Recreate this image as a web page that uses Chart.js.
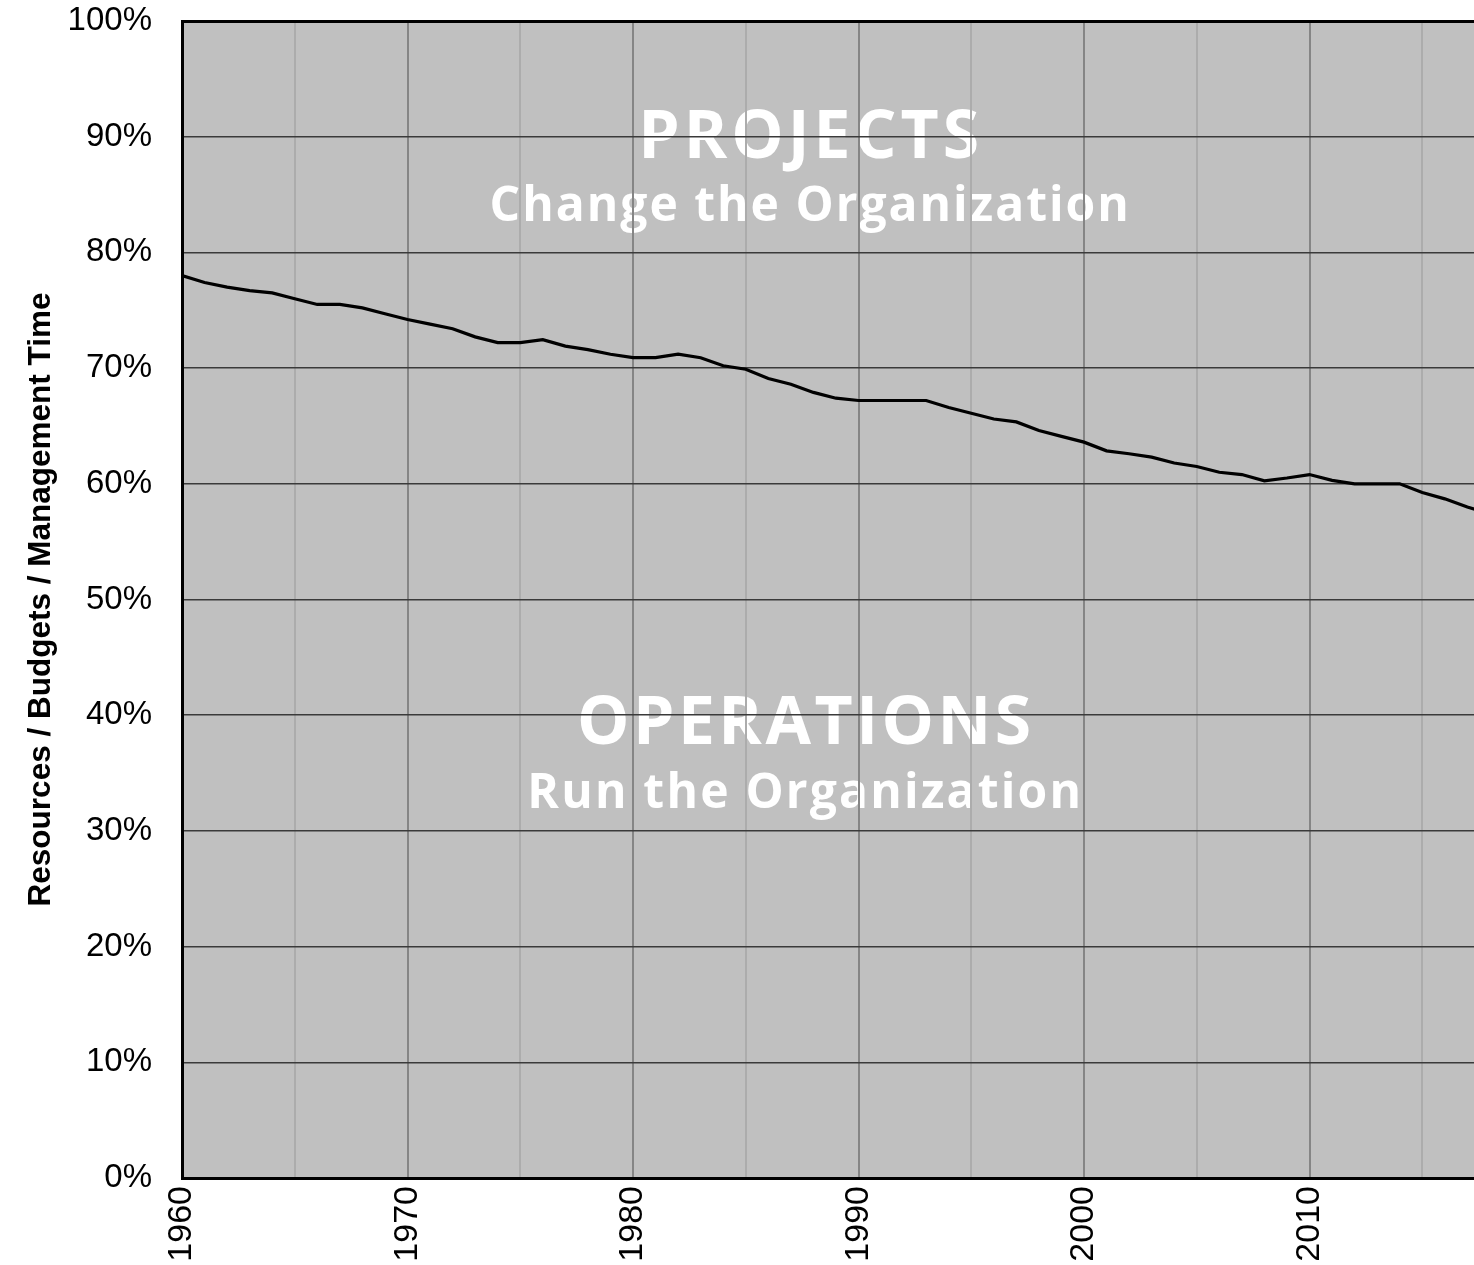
<!DOCTYPE html>
<html><head><meta charset="utf-8">
<script src="https://cdn.jsdelivr.net/npm/chart.js@4"></script>
<style>
html,body{margin:0;padding:0;background:#fff;overflow:hidden;width:1474px;height:1265px}
#wrap{position:absolute;left:0;top:0;width:1546px;height:1265px}
</style></head>
<body><div id="wrap"><canvas id="c" width="1546" height="1265"></canvas></div>
<script>
const years = [1960,1961,1962,1963,1964,1965,1966,1967,1968,1969,
  1970,1971,1972,1973,1974,1975,1976,1977,1978,1979,
  1980,1981,1982,1983,1984,1985,1986,1987,1988,1989,
  1990,1991,1992,1993,1994,1995,1996,1997,1998,1999,
  2000,2001,2002,2003,2004,2005,2006,2007,2008,2009,
  2010,2011,2012,2013,2014,2015,2016,2017,2018];
const operationsShare = [78.0,77.4,77.0,76.7,76.5,76.0,75.5,75.5,75.2,74.7,
  74.2,73.8,73.4,72.7,72.2,72.2,72.45,71.9,71.6,71.2,
  70.9,70.9,71.2,70.9,70.2,69.9,69.1,68.6,67.9,67.4,
  67.2,67.2,67.2,67.2,66.6,66.1,65.6,65.35,64.6,64.1,
  63.6,62.85,62.6,62.3,61.8,61.5,61.0,60.8,60.25,60.5,
  60.8,60.3,60.0,60.0,60.0,59.25,58.7,58.0,57.4];
const xTickLabels = [1960,1970,1980,1990,2000,2010,2020];
const yTickValues = [0,10,20,30,40,50,60,70,80,90,100];
const yAxisTitle = 'Resources / Budgets / Management Time';
const annotationTexts = ['PROJECTS','Change the Organization','OPERATIONS','Run the Organization'];

const annotationPos = [
  {x:1987.88, y:88.2, font:'bold 66px "Open Sans"', spacing:'4px'},
  {x:1987.86, y:82.7, font:'bold 48px "Open Sans"', spacing:'2px'},
  {x:1987.66, y:37.5, font:'bold 66px "Open Sans"', spacing:'3.5px'},
  {x:1987.64, y:32.0, font:'bold 48px "Open Sans"', spacing:'2.2px'}
];

const bgText = {
  id:'bgText',
  beforeDraw(chart, args, opts){
    const {ctx, chartArea:a, scales:{x, y}} = chart;
    ctx.save();
    ctx.fillStyle = '#c0c0c0';
    ctx.fillRect(a.left, a.top, a.right - a.left, a.bottom - a.top);
    ctx.fillStyle = '#ffffff';
    ctx.textAlign = 'center';
    ctx.textBaseline = 'alphabetic';
    annotationTexts.forEach((t, i) => {
      const p = annotationPos[i];
      ctx.font = p.font;
      ctx.letterSpacing = p.spacing;
      ctx.fillText(t, x.getPixelForValue(p.x), y.getPixelForValue(p.y));
    });
    ctx.restore();
  }
};

const fam = '"Liberation Sans", Arial, sans-serif';

new Chart(document.getElementById('c'), {
  type:'line',
  data:{
    datasets:[{
      data: years.map((yr, i) => ({x: yr, y: operationsShare[i]})),
      borderColor:'#000', borderWidth:3.2, pointRadius:0, tension:0, fill:false
    }]
  },
  options:{
    responsive:false, devicePixelRatio:1, animation:false,
    layout:{padding:{top:21, right:11, left:0, bottom:0}},
    plugins:{legend:{display:false}, tooltip:{enabled:false}},
    scales:{
      x:{
        type:'linear', min:1960, max:2020,
        afterFit(s){ s.height = 87; s.paddingLeft = 0; s.paddingRight = 0; },
        border:{color:'#000', width:3},
        grid:{drawTicks:false, lineWidth:2,
          color: c => (c.tick && c.tick.value === 1960) ? '#000' : ((c.tick && c.tick.value % 10 === 0) ? '#858585' : '#acacac')},
        ticks:{stepSize:5, autoSkip:false, maxRotation:90, minRotation:90, padding:8, color:'#000',
          font:{family:fam, size:34},
          callback: v => xTickLabels.includes(v) ? String(v) : ''}
      },
      y:{
        min:0, max:100,
        afterFit(s){ s.width = 182; s.paddingTop = 0; s.paddingBottom = 0; },
        border:{color:'#000', width:3},
        grid:{drawTicks:false,
          color: c => (c.tick && (c.tick.value === 100 || c.tick.value === 0)) ? '#000' : '#3a3a3a',
          lineWidth: c => (c.tick && c.tick.value === 100) ? 3 : 1.5},
        afterBuildTicks(s){ s.ticks = yTickValues.map(v => ({value:v})); },
        ticks:{padding:30, color:'#000', font:{family:fam, size:33}, callback: v => v + '%'},
        title:{display:true, text:yAxisTitle, color:'#000',
          font:{family:fam, size:31.5, weight:'bold'}, padding:{top:22, bottom:0}}
      }
    }
  },
  plugins:[bgText]
});
</script>
</body></html>
